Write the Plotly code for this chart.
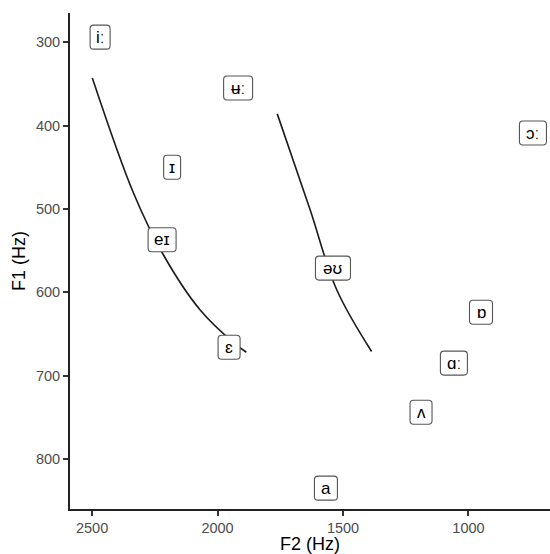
import plotly.graph_objects as go

# Vowel labels (F2, F1 in Hz)
vowels = ["iː", "ʉː", "ɪ", "eɪ", "ɔː", "əʊ", "ɛ", "ɒ", "ɑː", "ʌ", "a"]
vowel_f2 = [2468, 1918, 2181, 2221, 743, 1540, 1954, 950, 1058, 1189, 1568]
vowel_f1 = [294, 355, 450, 537, 409, 571, 666, 624, 685, 744, 835]

# Trajectory curves
curve1_f2 = [2499, 2335, 2216, 2070, 1930, 1885]
curve1_f1 = [343, 481, 555, 621, 662, 672]
curve2_f2 = [1762, 1631, 1525, 1386]
curve2_f1 = [386, 501, 597, 671]

x_ticks = [2500, 2000, 1500, 1000]
y_ticks = [300, 400, 500, 600, 700, 800]

# label box widths in px (styling)
BOX_W = {"iː": 20, "ʉː": 29, "ɪ": 17, "eɪ": 28, "ɔː": 27, "əʊ": 35, "ɛ": 22,
         "ɒ": 23, "ɑː": 27, "ʌ": 22, "a": 23}
BOX_H = 24
RAD = 3.5

FONT = "Liberation Sans, Arial, DejaVu Sans, sans-serif"


def rounded_path(w, h, r):
    a, b = w / 2, h / 2
    return (f"M {-a + r},{-b} L {a - r},{-b} Q {a},{-b} {a},{-b + r} "
            f"L {a},{b - r} Q {a},{b} {a - r},{b} L {-a + r},{b} "
            f"Q {-a},{b} {-a},{b - r} L {-a},{-b + r} Q {-a},{-b} {-a + r},{-b} Z")


fig = go.Figure()
for xs, ys in [(curve1_f2, curve1_f1), (curve2_f2, curve2_f1)]:
    fig.add_trace(go.Scatter(x=xs, y=ys, mode="lines",
                             line=dict(color="#1a1a1a", width=1.6, shape="spline", smoothing=1.0),
                             hoverinfo="skip", showlegend=False))

for v, x, y in zip(vowels, vowel_f2, vowel_f1):
    fig.add_shape(type="path", xref="x", yref="y", xsizemode="pixel", ysizemode="pixel",
                  xanchor=x, yanchor=y, path=rounded_path(BOX_W[v], BOX_H, RAD),
                  fillcolor="white", line=dict(color="#555555", width=1.1), layer="above")
    fig.add_annotation(x=x, y=y, text=v, showarrow=False,
                       font=dict(family=FONT, size=17, color="black"))

fig.update_layout(
    width=550, height=554,
    margin=dict(l=70, r=0, t=13, b=45),
    plot_bgcolor="white", paper_bgcolor="white",
    font=dict(family=FONT),
    showlegend=False,
)
fig.update_xaxes(range=[2588, 675], tickvals=x_ticks, ticktext=[str(t) for t in x_ticks],
                 showgrid=False, zeroline=False, showline=True, linecolor="#222", linewidth=2,
                 ticks="outside", ticklen=5, tickwidth=1.5, tickcolor="#333",
                 tickfont=dict(family=FONT, size=14.5, color="#4d4d4d"),
                 title=dict(text="F2 (Hz)", font=dict(family=FONT, size=18, color="black"), standoff=3))
fig.update_yaxes(range=[860, 265], tickvals=y_ticks, ticktext=[str(t) for t in y_ticks],
                 showgrid=False, zeroline=False, showline=True, linecolor="#222", linewidth=2,
                 ticks="outside", ticklen=5, tickwidth=1.5, tickcolor="#333",
                 tickfont=dict(family=FONT, size=14.5, color="#4d4d4d"),
                 title=dict(text="F1 (Hz)", font=dict(family=FONT, size=18, color="black"), standoff=6))

fig.write_html("out.html", config={"displayModeBar": False},
               post_script="document.body.style.margin='0';")
